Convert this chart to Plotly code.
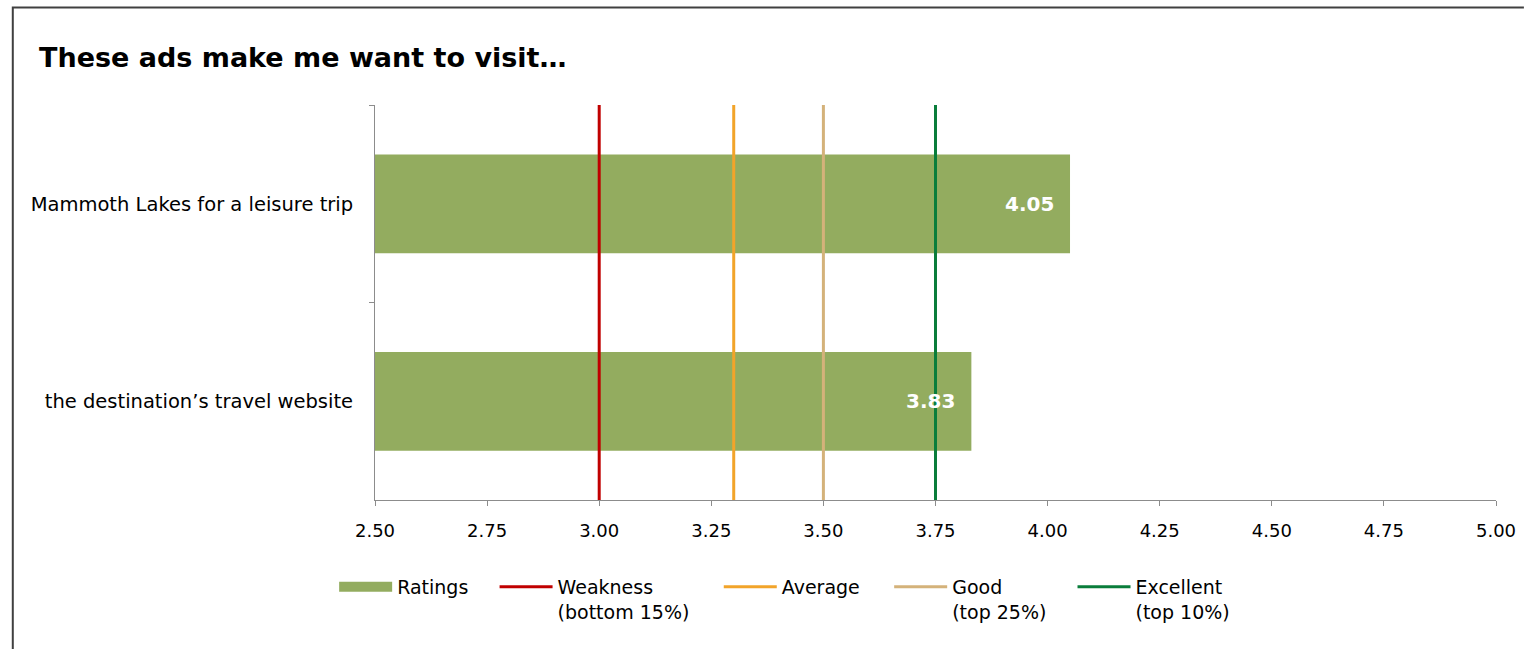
import plotly.graph_objects as go

# Survey items and mean ratings
items = ["Mammoth Lakes for a leisure trip", "the destination\u2019s travel website"]
ratings = [4.05, 3.83]

# Benchmark thresholds
bench_names = ["Weakness<br>(bottom 15%)", "Average", "Good<br>(top 25%)", "Excellent<br>(top 10%)"]
bench_values = [3.00, 3.30, 3.50, 3.75]
bench_colors = ["#C00000", "#F2A42A", "#D4B27A", "#0A7D3B"]

x_ticks = [2.50, 2.75, 3.00, 3.25, 3.50, 3.75, 4.00, 4.25, 4.50, 4.75, 5.00]

BAR_COLOR = "#93AC5F"
FONT = "'DejaVu Sans', sans-serif"

W, H = 1528, 649
ML, MR, MT, MB = 375, 28, 105, 149
pw = W - ML - MR
ph = H - MT - MB


def px_x(p):
    return (p - ML) / pw


def px_y(p):
    return (H - MB - p) / ph


# Left edge (px) of each legend entry, one legend box per entry
legend_left = [334, 495, 720, 891, 1075]
legend_top = 568

fig = go.Figure()

fig.add_trace(go.Bar(
    y=items, x=ratings, orientation="h",
    marker=dict(color=BAR_COLOR, line=dict(width=0)),
    width=0.5, showlegend=False, hoverinfo="x+y",
))

# Legend entry for the bars
fig.add_trace(go.Scatter(
    x=[None], y=[None], mode="lines", name="Ratings",
    line=dict(color=BAR_COLOR, width=13), legend="legend",
))

# Benchmark lines (legend entries; the lines themselves are shapes)
for i, (name, val, col) in enumerate(zip(bench_names, bench_values, bench_colors)):
    fig.add_trace(go.Scatter(
        x=[None], y=[None], mode="lines", name=name,
        line=dict(color=col, width=3), legend=f"legend{i + 2}",
    ))
    fig.add_shape(type="line", xref="x", yref="paper", x0=val, x1=val, y0=0, y1=1,
                  line=dict(color=col, width=3), layer="above")

# Value labels
for it, v in zip(items, ratings):
    fig.add_annotation(x=v, y=it, xref="x", yref="y", text=f"<b>{v:.2f}</b>",
                       showarrow=False, xanchor="right", xshift=-14,
                       font=dict(color="white", size=20, family=FONT))

# Title
fig.add_annotation(xref="paper", yref="paper", x=px_x(36), y=px_y(57),
                   text="<b>These ads make me want to visit\u2026</b>", showarrow=False,
                   xanchor="left", yanchor="middle",
                   font=dict(size=27, color="black", family=FONT))

# Outer frame: left and top edges of the chart area
frame_path = (f"M {px_x(11.5)},{px_y(H)} L {px_x(11.5)},{px_y(7.5)} "
              f"L {px_x(W)},{px_y(7.5)}")
fig.add_shape(type="path", xref="paper", yref="paper", path=frame_path,
              line=dict(color="#404040", width=2), layer="below")

legend_style = dict(orientation="h", xanchor="left", yanchor="top", valign="top",
                    font=dict(size=19, family=FONT, color="black"), itemwidth=53,
                    bgcolor="rgba(0,0,0,0)", y=px_y(legend_top))

layout_legends = {}
for i, lx in enumerate(legend_left):
    key = "legend" if i == 0 else f"legend{i + 1}"
    layout_legends[key] = dict(legend_style, x=px_x(lx))

fig.update_layout(
    width=W, height=H,
    margin=dict(l=ML, r=MR, t=MT, b=MB),
    plot_bgcolor="white", paper_bgcolor="white",
    font=dict(family=FONT, size=18, color="black"),
    bargap=0.5,
    xaxis=dict(range=[2.5, 5.0], tickvals=x_ticks, ticktext=[f"{t:.2f}" for t in x_ticks],
               showgrid=False, zeroline=False, showline=True, linecolor="#8C8C8C", linewidth=1,
               ticks="outside", ticklen=5, tickcolor="#8C8C8C", tickfont=dict(size=18),
               ticklabelstandoff=9, fixedrange=True),
    yaxis=dict(autorange="reversed", type="category", showgrid=False, zeroline=False,
               showline=True, linecolor="#8C8C8C", linewidth=1,
               ticks="outside", ticklen=5, tickcolor="#8C8C8C", tickson="boundaries",
               ticklabelstandoff=17, tickfont=dict(size=19.5), fixedrange=True),
    **layout_legends,
)

fig.write_html("out.html")
